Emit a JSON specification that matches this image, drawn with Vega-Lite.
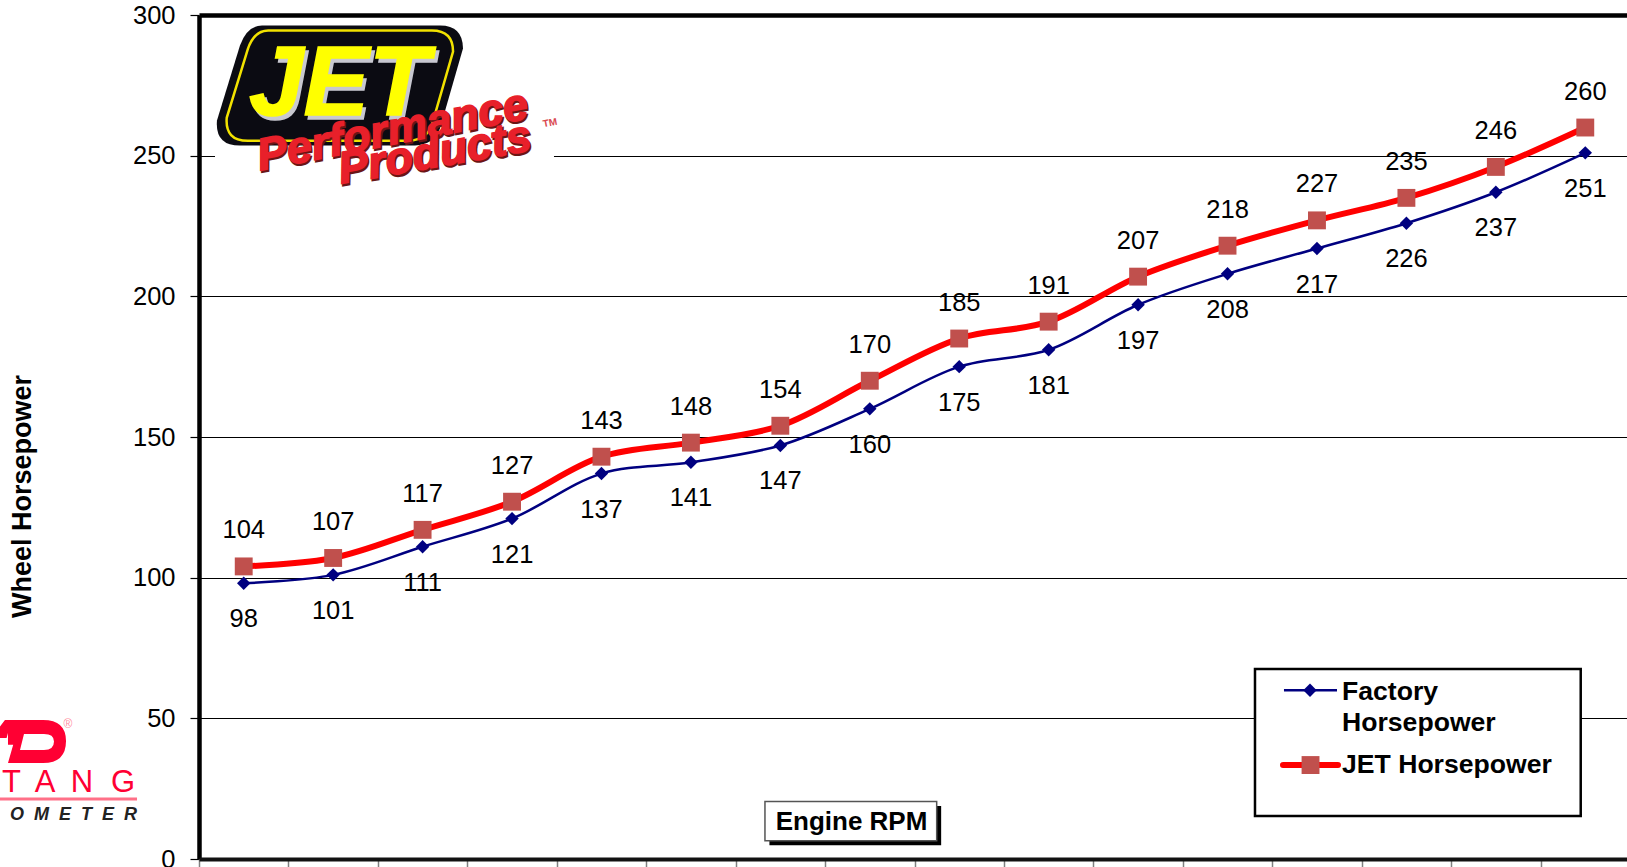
{
"$schema":"https://vega.github.io/schema/vega-lite/v6.json",
"width":1428,"height":844,
"autosize":{"type":"none"},
"padding":{"left":199,"top":15,"right":0,"bottom":8},
"background":"white",
"view":{"stroke":null},
"config":{"font":"Liberation Sans"},
"datasets":{"hp":[
{"series":"Factory Horsepower","point":1,"hp":98},{"series":"Factory Horsepower","point":2,"hp":101},{"series":"Factory Horsepower","point":3,"hp":111},{"series":"Factory Horsepower","point":4,"hp":121},{"series":"Factory Horsepower","point":5,"hp":137},{"series":"Factory Horsepower","point":6,"hp":141},{"series":"Factory Horsepower","point":7,"hp":147},{"series":"Factory Horsepower","point":8,"hp":160},{"series":"Factory Horsepower","point":9,"hp":175},{"series":"Factory Horsepower","point":10,"hp":181},{"series":"Factory Horsepower","point":11,"hp":197},{"series":"Factory Horsepower","point":12,"hp":208},{"series":"Factory Horsepower","point":13,"hp":217},{"series":"Factory Horsepower","point":14,"hp":226},{"series":"Factory Horsepower","point":15,"hp":237},{"series":"Factory Horsepower","point":16,"hp":251},
{"series":"JET Horsepower","point":1,"hp":104},{"series":"JET Horsepower","point":2,"hp":107},{"series":"JET Horsepower","point":3,"hp":117},{"series":"JET Horsepower","point":4,"hp":127},{"series":"JET Horsepower","point":5,"hp":143},{"series":"JET Horsepower","point":6,"hp":148},{"series":"JET Horsepower","point":7,"hp":154},{"series":"JET Horsepower","point":8,"hp":170},{"series":"JET Horsepower","point":9,"hp":185},{"series":"JET Horsepower","point":10,"hp":191},{"series":"JET Horsepower","point":11,"hp":207},{"series":"JET Horsepower","point":12,"hp":218},{"series":"JET Horsepower","point":13,"hp":227},{"series":"JET Horsepower","point":14,"hp":235},{"series":"JET Horsepower","point":15,"hp":246},{"series":"JET Horsepower","point":16,"hp":260}
]},
"data":{"name":"hp"},
"layer":[
{"transform":[{"filter":"datum.series==='Factory Horsepower'"}],
 "mark":{"type":"line","interpolate":"catmull-rom","color":"#000080","strokeWidth":2.5},
 "encoding":{
  "x":{"field":"point","type":"quantitative","scale":{"domain":[0.5,16.5],"range":[0,1431],"nice":false,"zero":false},
   "axis":{"title":"Engine RPM","titleFontSize":26,"titleFontWeight":"bold","titleColor":"#000","titleX":652,"titleY":-38,"titleBaseline":"middle","titleAlign":"center","titleAnchor":null,"values":[0.5,1.5,2.5,3.5,4.5,5.5,6.5,7.5,8.5,9.5,10.5,11.5,12.5,13.5,14.5,15.5,16.5],"labels":false,"grid":false,"domainColor":"#111","domainWidth":4,"tickColor":"#808080","tickWidth":1.5,"tickSize":10,"zindex":1}},
  "y":{"field":"hp","type":"quantitative","scale":{"domain":[0,300],"nice":false},
   "axis":{"title":"Wheel Horsepower","titleFontSize":27,"titleFontWeight":"bold","titleColor":"#000","titleX":-177,"titleY":481,"titleAngle":270,"titleBaseline":"middle","titleAlign":"center","titleAnchor":null,"values":[0,50,100,150,200,250,300],"labelFontSize":25.5,"labelColor":"#000","labelPadding":15,"grid":true,"gridColor":"#000","gridOpacity":1,"gridWidth":{"condition":{"test":"datum.value==300","value":4.5},"value":1.2},"domainColor":"#000","domainWidth":4.5,"tickColor":"#000","tickWidth":1.2,"tickSize":9}}
 }},
{"transform":[{"filter":"datum.series==='Factory Horsepower'"}],
 "mark":{"type":"point","shape":"diamond","filled":true,"color":"#000080","size":180,"opacity":1},
 "encoding":{"x":{"field":"point","type":"quantitative"},"y":{"field":"hp","type":"quantitative"}}},
{"transform":[{"filter":"datum.series==='JET Horsepower'"}],
 "mark":{"type":"line","interpolate":"catmull-rom","color":"#FF0000","strokeWidth":6},
 "encoding":{"x":{"field":"point","type":"quantitative"},"y":{"field":"hp","type":"quantitative"}}},
{"transform":[{"filter":"datum.series==='JET Horsepower'"}],
 "mark":{"type":"point","shape":"square","filled":true,"color":"#C0504D","size":320,"opacity":1},
 "encoding":{"x":{"field":"point","type":"quantitative"},"y":{"field":"hp","type":"quantitative"}}},
{"transform":[{"filter":"datum.series==='Factory Horsepower'"}],
 "mark":{"type":"text","fontSize":25.5,"color":"#000","dy":36},
 "encoding":{"x":{"field":"point","type":"quantitative"},"y":{"field":"hp","type":"quantitative"},"text":{"field":"hp","type":"quantitative"}}},
{"transform":[{"filter":"datum.series==='JET Horsepower'"}],
 "mark":{"type":"text","fontSize":25.5,"color":"#000","dy":-36},
 "encoding":{"x":{"field":"point","type":"quantitative"},"y":{"field":"hp","type":"quantitative"},"text":{"field":"hp","type":"quantitative"}}},

{"data":{"values":[{}]},"mark":{"type":"rect","fill":"white","color":"white"},"encoding":{"x":{"datum":0.679,"type":"quantitative"},"x2":{"datum":4.469},"y":{"datum":297.9,"type":"quantitative"},"y2":{"datum":238.2}}},
{"data":{"values":[{}]},"mark":{"type":"point","filled":true,"opacity":1,"color":"#0B0B12","size":62500,"shape":"M-0.616,-0.48 L0.808,-0.48 Q0.992,-0.48 0.992,-0.296 L0.808,0.344 Q0.76,0.472 0.608,0.48 L-0.792,0.48 Q-0.992,0.48 -0.976,0.28 L-0.792,-0.32 Q-0.736,-0.48 -0.616,-0.48 Z"},"encoding":{"x":{"datum":2.065,"type":"quantitative"},"y":{"datum":274.9,"type":"quantitative"}}},
{"data":{"values":[{}]},"mark":{"type":"point","filled":false,"opacity":1,"color":"#F2E200","strokeWidth":2.5,"size":52900,"shape":"M-0.616,-0.48 L0.808,-0.48 Q0.992,-0.48 0.992,-0.296 L0.808,0.344 Q0.76,0.472 0.608,0.48 L-0.792,0.48 Q-0.992,0.48 -0.976,0.28 L-0.792,-0.32 Q-0.736,-0.48 -0.616,-0.48 Z"},"encoding":{"x":{"datum":2.065,"type":"quantitative"},"y":{"datum":274.9,"type":"quantitative"}}},
{"data":{"values":[{}]},"mark":{"type":"text","text":"JET","fontSize":98,"fontWeight":"bold","fontStyle":"italic","color":"#C8C8D0","stroke":"#C8C8D0","strokeWidth":1.5,"baseline":"alphabetic","align":"center","dx":3,"dy":4},"encoding":{"x":{"datum":2.065,"type":"quantitative"},"y":{"datum":264.5,"type":"quantitative"}}},
{"data":{"values":[{}]},"mark":{"type":"text","text":"JET","fontSize":98,"fontWeight":"bold","fontStyle":"italic","color":"#FFFF00","stroke":"#FFFF00","strokeWidth":1.5,"baseline":"alphabetic","align":"center"},"encoding":{"x":{"datum":2.065,"type":"quantitative"},"y":{"datum":264.5,"type":"quantitative"}}},
{"data":{"values":[{}]},"mark":{"type":"text","text":"Performance","fontSize":45,"fontWeight":"bold","fontStyle":"italic","color":"#6B1515","stroke":"#6B1515","strokeWidth":2,"angle":349,"baseline":"alphabetic","align":"center","dx":1,"dy":2},"encoding":{"x":{"datum":2.691,"type":"quantitative"},"y":{"datum":254.1,"type":"quantitative"}}},
{"data":{"values":[{}]},"mark":{"type":"text","text":"Performance","fontSize":45,"fontWeight":"bold","fontStyle":"italic","color":"#E8202A","stroke":"#E8202A","strokeWidth":1.5,"angle":349,"baseline":"alphabetic","align":"center"},"encoding":{"x":{"datum":2.691,"type":"quantitative"},"y":{"datum":254.1,"type":"quantitative"}}},
{"data":{"values":[{}]},"mark":{"type":"text","text":"Products","fontSize":45,"fontWeight":"bold","fontStyle":"italic","color":"#6B1515","stroke":"#6B1515","strokeWidth":2,"angle":350,"baseline":"alphabetic","align":"center","dx":1,"dy":2},"encoding":{"x":{"datum":3.161,"type":"quantitative"},"y":{"datum":246.0,"type":"quantitative"}}},
{"data":{"values":[{}]},"mark":{"type":"text","text":"Products","fontSize":45,"fontWeight":"bold","fontStyle":"italic","color":"#E8202A","stroke":"#E8202A","strokeWidth":1.5,"angle":350,"baseline":"alphabetic","align":"center"},"encoding":{"x":{"datum":3.161,"type":"quantitative"},"y":{"datum":246.0,"type":"quantitative"}}},
{"data":{"values":[{}]},"mark":{"type":"text","text":"TM","fontSize":10,"fontWeight":"bold","color":"#D9484F","angle":349},"encoding":{"x":{"datum":4.425,"type":"quantitative"},"y":{"datum":261.6,"type":"quantitative"}}},

{"data":{"values":[{}]},"mark":{"type":"point","filled":true,"opacity":1,"color":"#FF0033","size":4356,"shape":"M-0.758,-0.652 L0.303,-0.652 Q1,-0.652 1,-0.015 Q1,0.652 0.303,0.652 L-0.758,0.652 L-0.6,0.1 L-0.758,0.1 Z M-0.273,-0.227 L-0.394,0.258 L0.333,0.258 Q0.636,0.258 0.636,0 Q0.636,-0.227 0.333,-0.227 Z M-1,-0.45 L-0.85,-0.652 L-0.65,-0.652 L-0.8,-0.1 L-1,-0.1 Z"},"encoding":{"x":{"datum":-1.356,"type":"quantitative"},"y":{"datum":41.8,"type":"quantitative"}}},
{"data":{"values":[{}]},"mark":{"type":"text","text":"®","fontSize":12,"color":"#FF8FA3"},"encoding":{"x":{"datum":-0.965,"type":"quantitative"},"y":{"datum":48,"type":"quantitative"}}},
{"data":{"values":[{}]},"mark":{"type":"text","text":"T","fontSize":31,"color":"#FF0033","baseline":"alphabetic","align":"center"},"encoding":{"x":{"datum":-1.596,"type":"quantitative"},"y":{"datum":23.8,"type":"quantitative"}}},
{"data":{"values":[{}]},"mark":{"type":"text","text":"A","fontSize":31,"color":"#FF0033","baseline":"alphabetic","align":"center"},"encoding":{"x":{"datum":-1.222,"type":"quantitative"},"y":{"datum":23.8,"type":"quantitative"}}},
{"data":{"values":[{}]},"mark":{"type":"text","text":"N","fontSize":31,"color":"#FF0033","baseline":"alphabetic","align":"center"},"encoding":{"x":{"datum":-0.808,"type":"quantitative"},"y":{"datum":23.8,"type":"quantitative"}}},
{"data":{"values":[{}]},"mark":{"type":"text","text":"G","fontSize":31,"color":"#FF0033","baseline":"alphabetic","align":"center"},"encoding":{"x":{"datum":-0.350,"type":"quantitative"},"y":{"datum":23.8,"type":"quantitative"}}},
{"data":{"values":[{}]},"mark":{"type":"rule","color":"#FF7088","strokeWidth":3},"encoding":{"x":{"datum":-1.725,"type":"quantitative"},"x2":{"datum":-0.193},"y":{"datum":21.3,"type":"quantitative"}}},
{"data":{"values":[{}]},"mark":{"type":"text","text":"O\u00a0\u00a0M\u00a0\u00a0E\u00a0\u00a0T\u00a0\u00a0E\u00a0\u00a0R","fontSize":18,"fontWeight":"bold","fontStyle":"italic","color":"#222","baseline":"alphabetic","align":"right"},"encoding":{"x":{"datum":-0.193,"type":"quantitative"},"y":{"datum":13.9,"type":"quantitative"}}},

{"data":{"values":[{}]},"mark":{"type":"rect","fill":"white","stroke":"#000","strokeWidth":2.5},"encoding":{"x":{"datum":12.307,"type":"quantitative"},"x2":{"datum":15.949},"y":{"datum":67.5,"type":"quantitative"},"y2":{"datum":15.3}}},
{"data":{"values":[{}]},"mark":{"type":"rule","color":"#000080","strokeWidth":2.5},"encoding":{"x":{"datum":12.631,"type":"quantitative"},"x2":{"datum":13.224},"y":{"datum":60.0,"type":"quantitative"}}},
{"data":{"values":[{}]},"mark":{"type":"point","shape":"diamond","filled":true,"color":"#000080","size":180,"opacity":1},"encoding":{"x":{"datum":12.922,"type":"quantitative"},"y":{"datum":60.0,"type":"quantitative"}}},
{"data":{"values":[{}]},"mark":{"type":"rule","color":"#FF0000","strokeWidth":6,"strokeCap":"round"},"encoding":{"x":{"datum":12.620,"type":"quantitative"},"x2":{"datum":13.235},"y":{"datum":33.4,"type":"quantitative"}}},
{"data":{"values":[{}]},"mark":{"type":"point","shape":"square","filled":true,"color":"#C0504D","size":320,"opacity":1},"encoding":{"x":{"datum":12.928,"type":"quantitative"},"y":{"datum":33.4,"type":"quantitative"}}},
{"data":{"values":[{}]},"mark":{"type":"text","text":"Factory","fontSize":26.6,"fontWeight":"bold","color":"#000","align":"left","baseline":"alphabetic"},"encoding":{"x":{"datum":13.28,"type":"quantitative"},"y":{"datum":56.5,"type":"quantitative"}}},
{"data":{"values":[{}]},"mark":{"type":"text","text":"Horsepower","fontSize":26.6,"fontWeight":"bold","color":"#000","align":"left","baseline":"alphabetic"},"encoding":{"x":{"datum":13.28,"type":"quantitative"},"y":{"datum":45.6,"type":"quantitative"}}},
{"data":{"values":[{}]},"mark":{"type":"text","text":"JET Horsepower","fontSize":26.6,"fontWeight":"bold","color":"#000","align":"left","baseline":"alphabetic"},"encoding":{"x":{"datum":13.28,"type":"quantitative"},"y":{"datum":30.5,"type":"quantitative"}}},

{"data":{"values":[{}]},"mark":{"type":"rect","fill":"#000"},"encoding":{"x":{"datum":6.878,"type":"quantitative"},"x2":{"datum":8.798},"y":{"datum":18.8,"type":"quantitative"},"y2":{"datum":4.9}}},
{"data":{"values":[{}]},"mark":{"type":"rect","fill":"white","stroke":"#555","strokeWidth":1.5},"encoding":{"x":{"datum":6.828,"type":"quantitative"},"x2":{"datum":8.748},"y":{"datum":20.4,"type":"quantitative"},"y2":{"datum":6.5}}}
]
}
